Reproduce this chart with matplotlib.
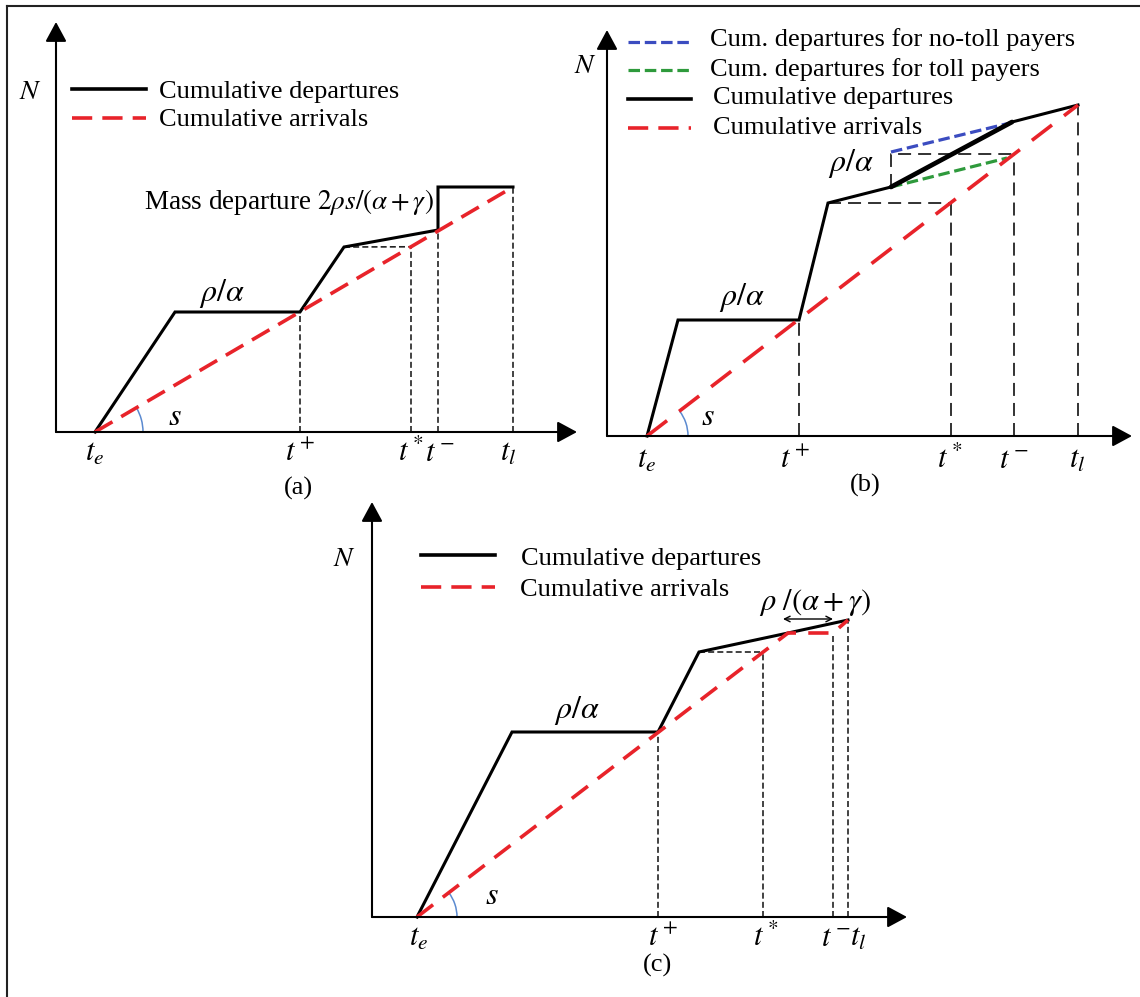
import numpy as np
import matplotlib
matplotlib.use("Agg")
import matplotlib.pyplot as plt
from matplotlib.patches import Arc
from matplotlib.lines import Line2D

plt.rcParams["font.family"] = ["Liberation Serif", "DejaVu Serif"]
plt.rcParams["mathtext.fontset"] = "stix"

W, H = 1140, 997
PX = 100          # pixels per data unit (both directions)
FS = 19
MS = 22           # math labels

RED = "#e8232a"
BLUE = "#3b4cc0"
GREEN = "#2e9a3c"
ARCC = "#5b8ad0"
GUIDE = "#222222"

TICK_LABELS = [r"$t_e$", r"$t^+$", r"$t^*$", r"$t^-$", r"$t_l$"]

# ---- panel (a): mass departure at t-
a_dep_t = [0.39, 1.19, 2.44, 2.88, 3.82, 3.82, 4.57]
a_dep_n = [0.00, 1.20, 1.20, 1.85, 2.02, 2.45, 2.45]
a_arr_t = [0.39, 4.57]
a_arr_n = [0.00, 2.45]
a_guides = [2.44, 3.55, 3.82, 4.57]          # t+, t*, t-, tl
a_tick_t = [0.39, 2.44, 3.55, 3.84, 4.52]

# ---- panel (b): toll / no-toll payers
b_dep_t = [0.40, 0.71, 1.92, 2.21, 2.84, 4.05, 4.71]
b_dep_n = [0.00, 1.16, 1.16, 2.33, 2.49, 3.14, 3.31]
b_arr_t = [0.40, 4.71]
b_arr_n = [0.00, 3.31]
b_notoll_t = [2.84, 4.03]
b_notoll_n = [2.84, 3.13]
b_toll_t = [2.84, 4.00]
b_toll_n = [2.49, 2.78]
b_guides = [1.92, 3.44, 4.07, 4.71]
b_tick_t = [0.40, 1.88, 3.43, 4.07, 4.70]

# ---- panel (c): short queue before tl
c_dep_t = [0.45, 1.40, 2.86, 3.27, 4.16, 4.76]
c_dep_n = [0.00, 1.85, 1.85, 2.65, 2.84, 2.97]
c_arr_t = [0.45, 4.16, 4.61, 4.76]
c_arr_n = [0.00, 2.84, 2.84, 2.97]
c_guides = [2.86, 3.91, 4.61, 4.76]
c_tick_t = [0.47, 2.91, 3.94, 4.64, 4.86]

fig = plt.figure(figsize=(W / PX, H / PX), dpi=PX)

# picture frame (top and left edges only)
fig.add_artist(Line2D([7 / W, 7 / W], [0, 1 - 6 / H], color="#222", lw=1.5))
fig.add_artist(Line2D([7 / W, 1], [1 - 6 / H, 1 - 6 / H], color="#222", lw=1.5))


def panel(ox, oy):
    ax = fig.add_axes([0, 0, 1, 1])
    ax.set_xlim(-ox / PX, (W - ox) / PX)
    ax.set_ylim(-(H - oy) / PX, oy / PX)
    ax.set_axis_off()
    ax.patch.set_visible(False)
    return ax


def axes_arrows(ax, x_tip, y_tip):
    kw = dict(arrowstyle="-|>,head_length=0.5,head_width=0.27", mutation_scale=24,
              lw=1.5, color="k", shrinkA=0, shrinkB=0)
    ax.annotate("", xy=(x_tip, 0), xytext=(0, 0), arrowprops=kw)
    ax.annotate("", xy=(0, y_tip), xytext=(0, 0), arrowprops=kw)


def slope_arc(ax, t0, arr_t, arr_n, r):
    ang = np.degrees(np.arctan2(arr_n[1] - arr_n[0], arr_t[1] - arr_t[0]))
    ax.add_patch(Arc((t0, 0), 2 * r, 2 * r, theta1=0, theta2=ang, color=ARCC, lw=1.1))


def guides(ax, ts, arr_t, arr_n, dashes, lw):
    for t in ts:
        ax.plot([t, t], [0, np.interp(t, arr_t, arr_n)], color=GUIDE, lw=lw, dashes=dashes)


def ticks(ax, ts, y):
    for t, lab in zip(ts, TICK_LABELS):
        ax.text(t, y, lab, fontsize=MS, ha="center", va="center")


# ================= (a)
ax = panel(56, 432)
axes_arrows(ax, 5.21, 4.10)
guides(ax, a_guides, a_arr_t, a_arr_n, (3.6, 1.9), 1.2)
ax.plot([a_dep_t[3], a_guides[1]], [a_dep_n[3], np.interp(a_guides[1], a_arr_t, a_arr_n)],
        color=GUIDE, lw=1.2, dashes=(3.6, 1.9))
ax.plot(a_dep_t, a_dep_n, color="k", lw=2.2, solid_joinstyle="miter")
ax.plot(a_arr_t, a_arr_n, color=RED, lw=2.6, dashes=(5.6, 2.8))
slope_arc(ax, a_dep_t[0], a_arr_t, a_arr_n, 0.48)
ax.text(1.19, 0.15, r"$s$", fontsize=MS + 1, ha="center", va="center")
ax.text(1.66, 1.39, r"$\rho/\alpha$", fontsize=MS + 1, ha="center", va="center")
ax.text(0.88, 2.30, r"Mass departure $2\rho s/(\alpha+\gamma)$", fontsize=FS + 0.5,
        ha="left", va="center")
ticks(ax, a_tick_t, -0.21)
ax.text(2.42, -0.56, "(a)", fontsize=FS, ha="center", va="center")
ax.text(-0.26, 3.40, r"$N$", fontsize=FS + 1, ha="center", va="center")
ax.plot([0.16, 0.90], [3.43, 3.43], color="k", lw=2.6)
ax.plot([0.16, 0.90], [3.14, 3.14], color=RED, lw=2.6, dashes=(5.6, 2.8))
ax.text(1.03, 3.40, "Cumulative departures", fontsize=FS, va="center")
ax.text(1.03, 3.12, "Cumulative arrivals", fontsize=FS, va="center")

# ================= (b)
ax = panel(607, 436)
axes_arrows(ax, 5.25, 4.06)
guides(ax, b_guides, b_arr_t, b_arr_n, (7.2, 3.9), 1.3)
n_star = np.interp(b_guides[1], b_arr_t, b_arr_n)
n_minus = np.interp(b_guides[2], b_arr_t, b_arr_n)
ax.plot([b_dep_t[3], b_guides[1]], [n_star, n_star], color=GUIDE, lw=1.3, dashes=(7.2, 3.9))
ax.plot([b_dep_t[4], b_dep_t[4], b_guides[2]], [b_dep_n[4], n_minus, n_minus],
        color=GUIDE, lw=1.3, dashes=(7.2, 3.9))
ax.plot(b_notoll_t, b_notoll_n, color=BLUE, lw=2.3, dashes=(3.6, 1.5))
ax.plot(b_toll_t, b_toll_n, color=GREEN, lw=2.3, dashes=(3.6, 1.5))
ax.plot(b_dep_t, b_dep_n, color="k", lw=2.2, solid_joinstyle="miter")
ax.plot(b_dep_t[4:6], b_dep_n[4:6], color="k", lw=3.4, solid_capstyle="round")
ax.plot(b_arr_t, b_arr_n, color=RED, lw=2.6, dashes=(7.0, 4.2))
slope_arc(ax, b_dep_t[0], b_arr_t, b_arr_n, 0.41)
ax.text(1.01, 0.19, r"$s$", fontsize=MS + 1, ha="center", va="center")
ax.text(1.35, 1.39, r"$\rho/\alpha$", fontsize=MS + 1, ha="center", va="center")
ax.text(2.44, 2.73, r"$\rho/\alpha$", fontsize=MS + 1, ha="center", va="center")
ticks(ax, b_tick_t, -0.24)
ax.text(2.58, -0.49, "(b)", fontsize=FS, ha="center", va="center")
ax.text(-0.22, 3.70, r"$N$", fontsize=FS + 1, ha="center", va="center")
ax.plot([0.21, 0.84], [3.94, 3.94], color=BLUE, lw=2.3, dashes=(3.6, 1.5))
ax.plot([0.21, 0.84], [3.66, 3.66], color=GREEN, lw=2.3, dashes=(3.6, 1.5))
ax.plot([0.21, 0.84], [3.37, 3.37], color="k", lw=2.6)
ax.plot([0.21, 0.84], [3.08, 3.08], color=RED, lw=2.6, dashes=(5.6, 2.8))
ax.text(1.03, 3.96, "Cum. departures for no-toll payers", fontsize=FS, va="center")
ax.text(1.03, 3.66, "Cum. departures for toll payers", fontsize=FS, va="center")
ax.text(1.06, 3.38, "Cumulative departures", fontsize=FS, va="center")
ax.text(1.06, 3.08, "Cumulative arrivals", fontsize=FS, va="center")

# ================= (c)
ax = panel(372, 917)
axes_arrows(ax, 5.35, 4.15)
guides(ax, c_guides, c_arr_t, c_arr_n, (3.6, 1.9), 1.2)
n_star = np.interp(c_guides[1], c_arr_t, c_arr_n)
ax.plot([c_dep_t[3], c_guides[1]], [n_star, n_star], color=GUIDE, lw=1.2, dashes=(3.6, 1.9))
ax.plot(c_dep_t, c_dep_n, color="k", lw=2.2, solid_joinstyle="miter")
ax.plot(c_arr_t, c_arr_n, color=RED, lw=2.6, dashes=(5.6, 3.4))
slope_arc(ax, c_dep_t[0], c_arr_t, c_arr_n, 0.40)
ax.annotate("", xy=(4.11, 2.98), xytext=(4.61, 2.98),
            arrowprops=dict(arrowstyle="<->", lw=1.0, color="k", shrinkA=0, shrinkB=0))
ax.text(1.20, 0.21, r"$s$", fontsize=MS + 1, ha="center", va="center")
ax.text(2.05, 2.07, r"$\rho/\alpha$", fontsize=MS + 1, ha="center", va="center")
ax.text(4.43, 3.15, r"$\rho\ /(\alpha+\gamma)$", fontsize=MS, ha="center", va="center")
ticks(ax, c_tick_t, -0.21)
ax.text(2.86, -0.48, "(c)", fontsize=FS, ha="center", va="center")
ax.text(-0.28, 3.58, r"$N$", fontsize=FS + 1, ha="center", va="center")
ax.plot([0.49, 1.23], [3.62, 3.62], color="k", lw=2.6)
ax.plot([0.49, 1.23], [3.30, 3.30], color=RED, lw=2.6, dashes=(5.6, 2.8))
ax.text(1.49, 3.58, "Cumulative departures", fontsize=FS, va="center")
ax.text(1.48, 3.27, "Cumulative arrivals", fontsize=FS, va="center")

fig.savefig("out.png", dpi=PX, facecolor="white")
